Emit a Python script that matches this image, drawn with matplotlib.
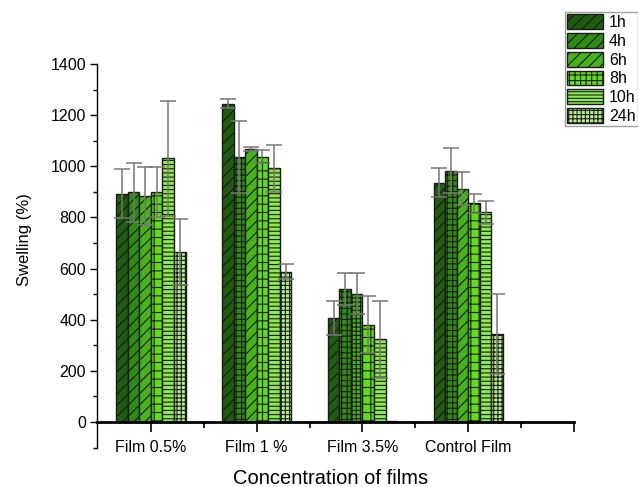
import numpy as np
import matplotlib.pyplot as plt

groups = ['Film 0.5%', 'Film 1 %', 'Film 3.5%', 'Control Film']
times = ['1h', '4h', '6h', '8h', '10h', '24h']

# swelling (%) per time point, one value per group
swell_1h = [892, 1244, 407, 936]
swell_4h = [898, 1038, 519, 982]
swell_6h = [884, 1069, 502, 913]
swell_8h = [898, 1038, 381, 855]
swell_10h = [1031, 992, 323, 821]
swell_24h = [665, 588, 3, 344]

err_1h = [96, 18, 67, 56]
err_4h = [116, 141, 62, 88]
err_6h = [112, 8, 79, 63]
err_8h = [98, 25, 112, 38]
err_10h = [224, 93, 151, 45]
err_24h = [128, 29, 0, 158]

values = [swell_1h, swell_4h, swell_6h, swell_8h, swell_10h, swell_24h]
errors = [err_1h, err_4h, err_6h, err_8h, err_10h, err_24h]

colors = ['#1f5c10', '#2e8c12', '#46b418', '#62dc14', '#8cec4c', '#b6f088']
legend_hatch = ['///', '///', '///', '+++', '-----', '++++']
# the original plot is not consistent with its legend in a few bars
bar_hatch = [
    ['///', '///', '///', '++', '----', '++++'],
    ['///', '+++', '///', '++', '----', '++++'],
    ['///', '+++', '++++', '++', '----', '++++'],
    ['///', '+++', '///', '++', '----', '++++'],
]

plt.rcParams['font.family'] = ['Liberation Sans', 'DejaVu Sans']
plt.rcParams['hatch.color'] = '#1a1a1a'
plt.rcParams['hatch.linewidth'] = 0.8

fig = plt.figure(figsize=(6.38, 4.87), dpi=100)
ax = fig.add_axes([97 / 638, 1 - 447.6 / 487, (574 - 97) / 638, (447.6 - 64) / 487])

x = np.arange(1, len(groups) + 1)
w = 0.109
for i in range(len(times)):
    xs = x + (i - 2.5) * w
    bars = ax.bar(xs, values[i], width=w, color=colors[i], edgecolor='#1a1a1a',
                  linewidth=1.0, zorder=2)
    for g, b in enumerate(bars):
        b.set_hatch(bar_hatch[g][i])
    ye = np.array(errors[i], dtype=float)
    mask = ye > 0
    ax.errorbar(xs[mask], np.array(values[i])[mask], yerr=ye[mask], fmt='none',
                ecolor='#767676', elinewidth=1.1, capsize=5.5, capthick=1.1, zorder=3)

ax.set_xlim(0.49, 5.0)
ax.set_ylim(-100, 1400)

ax.spines['top'].set_visible(False)
ax.spines['right'].set_visible(False)
ax.spines['bottom'].set_position(('data', 0))
ax.spines['bottom'].set_linewidth(2.0)
ax.spines['left'].set_linewidth(1.0)

ax.set_yticks(np.arange(0, 1401, 200))
ax.set_yticks(np.arange(-100, 1400, 200), minor=True)
ax.set_xticks(list(x) + [5])
ax.set_xticklabels(groups + [''])
ax.set_xticks(np.arange(1.5, 5, 1.0), minor=True)

ax.tick_params(axis='y', which='major', direction='out', length=5, width=1, labelsize=11.5, pad=3)
ax.tick_params(axis='y', which='minor', direction='out', length=3, width=1)
ax.tick_params(axis='x', which='major', direction='out', length=7, width=1.2, labelsize=11.5, pad=6)
ax.tick_params(axis='x', which='minor', direction='out', length=4, width=1.2)

fig.text(25 / 638, 1 - 240 / 487, 'Swelling (%)', rotation=90, fontsize=12,
         ha='center', va='center')
fig.text(331 / 638, 1 - 478 / 487, 'Concentration of films', fontsize=14.5,
         ha='center', va='center')

handles = [plt.Rectangle((0, 0), 1, 1, facecolor=colors[i], edgecolor='#1a1a1a',
                         hatch=legend_hatch[i], linewidth=1.0) for i in range(len(times))]
leg = fig.legend(handles, times, loc='upper left', bbox_to_anchor=(565 / 638, 1 - 12 / 487),
                 fontsize=11.5, frameon=True, fancybox=False, borderaxespad=0,
                 handlelength=2.25, handleheight=1.05, labelspacing=0.18,
                 handletextpad=0.35, borderpad=0.15)
leg.get_frame().set_edgecolor('#888888')
leg.get_frame().set_linewidth(1.0)

fig.savefig('out.png', dpi=100)
